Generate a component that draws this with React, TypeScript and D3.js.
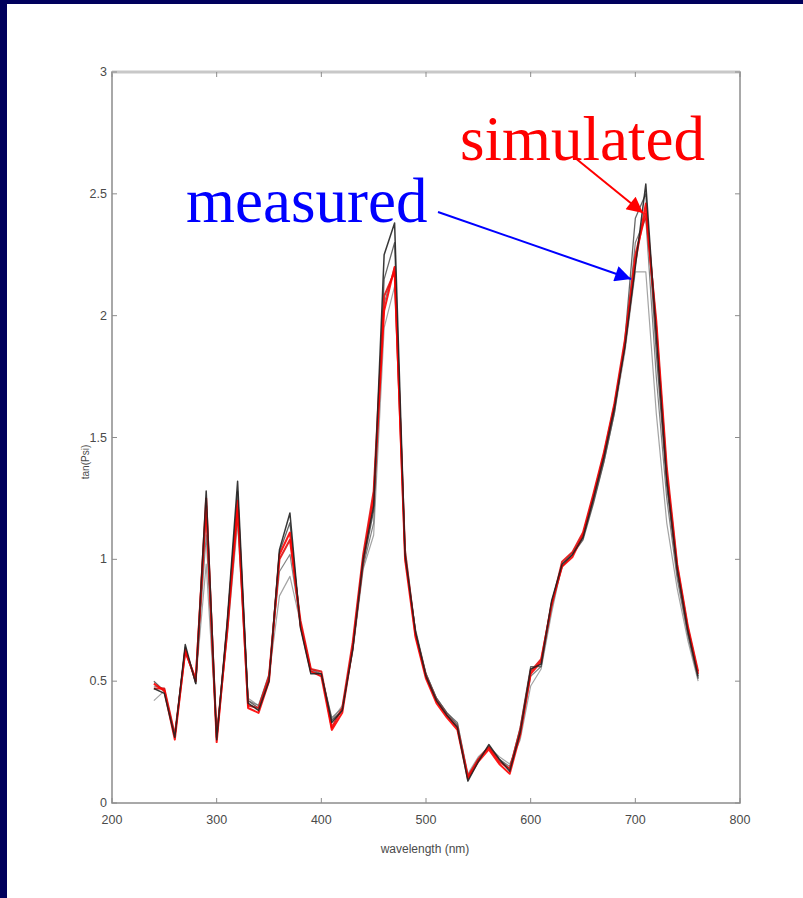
import React, { useEffect, useRef } from 'react';
import * as d3 from 'd3';

// wavelength grid (nm)
const wavelengths = [240, 250, 260, 270, 280, 290, 300, 310, 320, 330, 340, 350, 360, 370, 380, 390, 400, 410, 420, 430, 440, 450, 460, 470, 480, 490, 500, 510, 520, 530, 540, 550, 560, 570, 580, 590, 600, 610, 620, 630, 640, 650, 660, 670, 680, 690, 700, 710, 720, 730, 740, 750, 760];

// measured tan(Psi) curves
const measuredA = [0.47, 0.45, 0.27, 0.65, 0.49, 1.28, 0.26, 0.74, 1.32, 0.41, 0.38, 0.50, 1.04, 1.19, 0.72, 0.53, 0.53, 0.33, 0.38, 0.63, 1.00, 1.22, 2.25, 2.38, 1.02, 0.70, 0.52, 0.42, 0.36, 0.31, 0.09, 0.17, 0.24, 0.18, 0.13, 0.29, 0.55, 0.57, 0.83, 0.98, 1.02, 1.09, 1.25, 1.42, 1.62, 1.87, 2.20, 2.54, 1.92, 1.33, 0.96, 0.71, 0.52];
const measuredB = [0.42, 0.46, 0.28, 0.62, 0.50, 0.98, 0.28, 0.68, 1.15, 0.43, 0.40, 0.52, 0.85, 0.93, 0.74, 0.55, 0.52, 0.34, 0.40, 0.62, 0.96, 1.10, 1.95, 2.12, 1.05, 0.70, 0.53, 0.43, 0.37, 0.33, 0.12, 0.19, 0.23, 0.19, 0.16, 0.26, 0.48, 0.55, 0.78, 0.98, 1.03, 1.10, 1.24, 1.40, 1.60, 1.85, 2.18, 2.18, 1.60, 1.15, 0.88, 0.67, 0.50];
const measuredC = [0.50, 0.46, 0.27, 0.64, 0.49, 1.20, 0.26, 0.73, 1.28, 0.42, 0.39, 0.51, 1.03, 1.15, 0.73, 0.54, 0.53, 0.34, 0.38, 0.64, 0.98, 1.20, 2.15, 2.30, 1.00, 0.71, 0.53, 0.43, 0.37, 0.32, 0.10, 0.18, 0.23, 0.18, 0.14, 0.31, 0.56, 0.56, 0.82, 0.97, 1.02, 1.08, 1.23, 1.40, 1.60, 1.90, 2.40, 2.50, 1.85, 1.30, 0.94, 0.70, 0.51];
const measuredD = [0.48, 0.47, 0.28, 0.63, 0.50, 1.10, 0.27, 0.71, 1.22, 0.42, 0.40, 0.53, 0.95, 1.02, 0.74, 0.55, 0.53, 0.35, 0.39, 0.63, 0.97, 1.15, 2.05, 2.20, 1.02, 0.70, 0.53, 0.43, 0.37, 0.33, 0.11, 0.18, 0.23, 0.18, 0.15, 0.28, 0.52, 0.56, 0.80, 0.97, 1.02, 1.09, 1.24, 1.41, 1.61, 1.88, 2.30, 2.40, 1.75, 1.25, 0.92, 0.69, 0.51];

// simulated tan(Psi) curves
const simulatedA = [0.49, 0.46, 0.26, 0.63, 0.50, 1.25, 0.25, 0.72, 1.24, 0.39, 0.37, 0.50, 1.02, 1.11, 0.73, 0.54, 0.52, 0.30, 0.37, 0.64, 1.00, 1.25, 2.02, 2.20, 1.00, 0.68, 0.51, 0.41, 0.35, 0.30, 0.10, 0.17, 0.22, 0.16, 0.12, 0.28, 0.53, 0.58, 0.82, 0.97, 1.01, 1.10, 1.26, 1.43, 1.63, 1.88, 2.22, 2.46, 1.95, 1.35, 0.97, 0.72, 0.53];
const simulatedB = [0.47, 0.47, 0.28, 0.62, 0.51, 1.22, 0.27, 0.70, 1.20, 0.40, 0.39, 0.52, 1.00, 1.08, 0.75, 0.55, 0.54, 0.31, 0.39, 0.66, 1.02, 1.28, 2.08, 2.18, 1.03, 0.69, 0.52, 0.42, 0.36, 0.31, 0.11, 0.18, 0.23, 0.17, 0.14, 0.30, 0.54, 0.59, 0.81, 0.99, 1.03, 1.11, 1.27, 1.44, 1.64, 1.90, 2.25, 2.42, 1.98, 1.38, 0.98, 0.73, 0.54];

const xTicks = [200, 300, 400, 500, 600, 700, 800];
const yTicks = [0, 0.5, 1, 1.5, 2, 2.5, 3];

const App = () => {
  const ref = useRef<SVGSVGElement>(null);

  useEffect(() => {
    const width = 803, height = 898;
    const plot = { left: 112, right: 740, top: 72, bottom: 803 };
    const svg = d3.select(ref.current);
    svg.selectAll('*').remove();

    // slide background
    svg.append('rect').attr('width', width).attr('height', height).attr('fill', '#00005c');
    svg.append('rect').attr('x', 7).attr('y', 4).attr('width', width - 7).attr('height', height - 4).attr('fill', '#ffffff');

    const x = d3.scaleLinear().domain([200, 800]).range([plot.left, plot.right]);
    const y = d3.scaleLinear().domain([0, 3]).range([plot.bottom, plot.top]);

    const axisColor = '#8c8c8c';
    const font = 'Liberation Sans, Arial, sans-serif';
    const g = svg.append('g');

    // box
    g.append('rect')
      .attr('x', plot.left).attr('y', plot.top)
      .attr('width', plot.right - plot.left).attr('height', plot.bottom - plot.top)
      .attr('fill', 'none').attr('stroke', axisColor).attr('stroke-width', 1.5);
    g.append('line').attr('x1', plot.left).attr('x2', plot.right).attr('y1', plot.top).attr('y2', plot.top)
      .attr('stroke', '#c8c8c8').attr('stroke-width', 3);

    // ticks inward on all sides
    xTicks.forEach((t) => {
      g.append('line').attr('x1', x(t)).attr('x2', x(t)).attr('y1', plot.bottom).attr('y2', plot.bottom - 5)
        .attr('stroke', axisColor);
      g.append('line').attr('x1', x(t)).attr('x2', x(t)).attr('y1', plot.top).attr('y2', plot.top + 5)
        .attr('stroke', axisColor);
      g.append('text').attr('x', x(t)).attr('y', plot.bottom + 21)
        .attr('text-anchor', 'middle').attr('font-family', font)
        .attr('font-size', 12.5).attr('fill', '#4a4a4a').text(t);
    });
    yTicks.forEach((t) => {
      g.append('line').attr('x1', plot.left).attr('x2', plot.left + 5).attr('y1', y(t)).attr('y2', y(t))
        .attr('stroke', axisColor);
      g.append('line').attr('x1', plot.right).attr('x2', plot.right - 5).attr('y1', y(t)).attr('y2', y(t))
        .attr('stroke', axisColor);
      g.append('text').attr('x', plot.left - 5).attr('y', y(t) + 4)
        .attr('text-anchor', 'end').attr('font-family', font)
        .attr('font-size', 12.5).attr('fill', '#4a4a4a').text(String(t));
    });

    g.append('text').attr('x', 425).attr('y', 853)
      .attr('text-anchor', 'middle').attr('font-family', font)
      .attr('font-size', 12).attr('fill', '#4a4a4a').text('wavelength (nm)');
    g.append('text').attr('transform', 'translate(89,462) rotate(-90)')
      .attr('text-anchor', 'middle').attr('font-family', font)
      .attr('font-size', 10).attr('fill', '#4a4a4a').text('tan(Psi)');

    const line = d3.line<number>()
      .x((_, i) => x(wavelengths[i]))
      .y((d) => y(d));

    const curves = [
      { values: measuredB, color: '#9a9a9a', w: 1.2 },
      { values: measuredD, color: '#777777', w: 1.2 },
      { values: measuredC, color: '#555555', w: 1.3 },
      { values: simulatedB, color: '#e01010', w: 2 },
      { values: simulatedA, color: '#ff0000', w: 2 },
      { values: measuredA, color: '#222222', w: 1.5 },
    ];
    curves.forEach((c) => {
      g.append('path').datum(c.values).attr('d', line)
        .attr('fill', 'none').attr('stroke', c.color).attr('stroke-width', c.w)
        .attr('stroke-linejoin', 'round').attr('opacity', 0.9);
    });

    // annotations
    const defs = svg.append('defs');
    [['arrowBlue', '#0000ff'], ['arrowRed', '#ff0000']].forEach(([id, col]) => {
      defs.append('marker').attr('id', id).attr('viewBox', '0 0 10 10')
        .attr('refX', 10).attr('refY', 5)
        .attr('markerUnits', 'userSpaceOnUse').attr('orient', 'auto')
        .attr('markerWidth', 22).attr('markerHeight', 16)
        .append('path').attr('d', 'M0,0 L10,5 L0,10 Z').attr('fill', col);
    });

    svg.append('text').attr('x', 460).attr('y', 160)
      .attr('font-family', 'Liberation Serif, Times New Roman, serif')
      .attr('font-size', 63).attr('fill', '#ff0000').text('simulated');
    svg.append('text').attr('x', 186).attr('y', 222)
      .attr('font-family', 'Liberation Serif, Times New Roman, serif')
      .attr('font-size', 63).attr('fill', '#0000ff').text('measured');

    svg.append('line').attr('x1', 438).attr('y1', 212).attr('x2', 631).attr('y2', 279)
      .attr('stroke', '#0000ff').attr('stroke-width', 2).attr('marker-end', 'url(#arrowBlue)');
    svg.append('line').attr('x1', 574).attr('y1', 157).attr('x2', 643).attr('y2', 213)
      .attr('stroke', '#ff0000').attr('stroke-width', 2).attr('marker-end', 'url(#arrowRed)');
  }, []);

  return (
    <svg ref={ref} width={803} height={898}
      style={{ position: 'absolute', left: 0, top: 0, display: 'block' }} />
  );
};

export default App;
